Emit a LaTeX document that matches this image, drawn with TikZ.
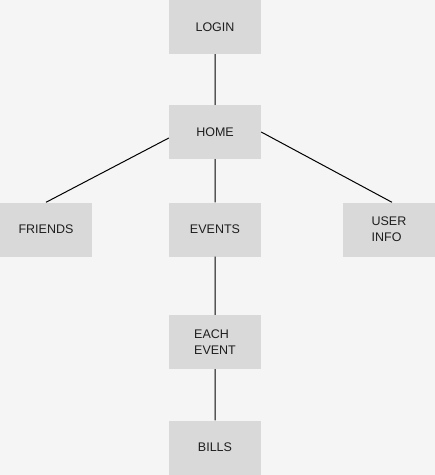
\documentclass[tikz,border=0pt]{standalone}
\usepackage{xcolor}
\usepackage{fontspec}
\setmainfont{Liberation Sans}
\usetikzlibrary{positioning}
\definecolor{pagegray}{HTML}{F5F5F5}
\definecolor{boxgray}{HTML}{D9D9D9}
\definecolor{inkgray}{HTML}{1E1E1E}
\tikzset{x=1pt, y=-1pt,
         every screen/.style={fill=boxgray, minimum width=92pt, minimum height=54pt,
                              inner sep=0pt, text=inkgray, align=left,
                              font=\fontsize{12.5}{16}\selectfont},
         link/.style={draw=black, line width=1pt},
         }

\begin{document}
\begin{tikzpicture}
    \fill[pagegray] (0,0) rectangle (435,475);
    \useasboundingbox (0,0) rectangle (435,475);

    \node[every screen] (login) at (215,27) {LOGIN};
    \node[every screen] (home) at (215,132) {HOME};
    \node[every screen] (friends) at (46,229.5) {FRIENDS};
    \node[every screen] (events) at (215,229.5) {EVENTS};
    \node[every screen] (userinfo) at (389,229.5) {USER\\INFO};
    \node[every screen] (eachevent) at (215,342) {EACH\\EVENT};
    \node[every screen] (bills) at (215,447.5) {BILLS};

    \draw[link] (login) -- (home)
                ([yshift=-6pt]home.west) -- (friends.north)
                (home.east) -- ([xshift=3pt]userinfo.north)
                (home) -- (events)
                (events) -- (eachevent)
                (eachevent) -- (bills);
\end{tikzpicture}
\end{document}
